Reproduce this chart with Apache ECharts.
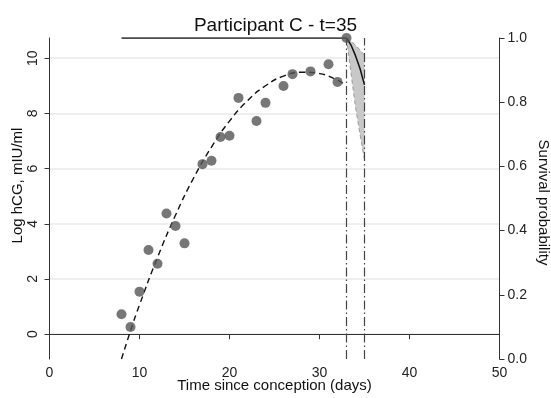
<!DOCTYPE html>
<html>
<head>
<meta charset="utf-8">
<script src="https://cdn.jsdelivr.net/npm/echarts@6/dist/echarts.min.js"></script>
<style>
  html, body { margin: 0; padding: 0; background: #fff; }
  #chart { width: 551px; height: 398px; }
</style>
</head>
<body>
<div id="chart"></div>
<script>
// observed hCG values (log scale)
const obsDays = [8, 9, 10, 11, 12, 13, 14, 15, 17, 18, 19, 20, 21, 23, 24, 26, 27, 29, 31, 32];
const obsHcg = [0.72, 0.26, 1.54, 3.05, 2.55, 4.37, 3.92, 3.29, 6.16, 6.28, 7.14, 7.19, 8.56, 7.72, 8.38, 8.99, 9.42, 9.52, 9.78, 9.14];

// fitted trajectory (dashed curve)
const fitDays = [8.0, 9, 10, 12, 14, 16, 18, 20, 22, 24, 26, 28, 30, 32, 32.6];
const fitHcg = [-0.9, 0.12, 1.06, 2.78, 4.31, 5.65, 6.78, 7.72, 8.46, 9.0, 9.35, 9.49, 9.44, 9.2, 9.09];

// survival curve and its band
const survDays = [8, 33, 33.5, 34, 34.5, 35];
const survProb = [1.0, 1.0, 0.978, 0.945, 0.905, 0.854];
const bandDays = [33, 33.5, 34, 34.5, 35];
const bandLow = [1.0, 0.89, 0.785, 0.70, 0.62];
const bandHigh = [1.0, 0.99, 0.978, 0.963, 0.947];
const survPoint = [[33, 1.0]];

// vertical reference times
const refTimes = [33, 35];

const hcgTicks = [0, 2, 4, 6, 8, 10];

const font = "'Liberation Sans', Arial, sans-serif";
const chart = echarts.init(document.getElementById('chart'));

const zip = (xs, ys) => xs.map((x, i) => [x, ys[i]]);

// shaded band drawn once as a polygon through the axes
const renderBand = (params, api) => {
  if (params.dataIndex !== 0) return;
  const top = bandDays.map((d, i) => api.coord([d, bandHigh[i]]));
  const bottom = bandDays.map((d, i) => api.coord([d, bandLow[i]])).reverse();
  return {
    type: 'polygon',
    shape: { points: top.concat(bottom) },
    style: { fill: '#c8c8c8', stroke: null }
  };
};

chart.setOption({
  animation: false,
  textStyle: { fontFamily: font },
  title: {
    text: 'Participant C - t=35',
    left: 'center',
    top: 11,
    textStyle: { fontSize: 19, fontWeight: 'normal', color: '#111', fontFamily: font }
  },
  grid: { left: 49.5, right: 51.5, top: 38, bottom: 39, outerBoundsMode: 'none', containLabel: false },
  xAxis: {
    type: 'value',
    min: 0,
    max: 50,
    interval: 10,
    name: 'Time since conception (days)',
    nameLocation: 'middle',
    nameGap: 19,
    nameMoveOverlap: false,
    nameTextStyle: { fontSize: 15, color: '#111' },
    axisLine: { lineStyle: { color: '#333', width: 1 } },
    axisTick: { length: 5, lineStyle: { color: '#333' } },
    axisLabel: { fontSize: 14, color: '#222', margin: 7 },
    splitLine: { show: false }
  },
  yAxis: [
    {
      type: 'value',
      min: -0.9,
      max: 10.73,
      name: 'Log hCG, mIU/ml',
      nameLocation: 'middle',
      nameGap: 24,
      nameMoveOverlap: false,
      nameRotate: 90,
      nameTextStyle: { fontSize: 15, color: '#111', padding: [0, 0, 0, 26] },
      axisLine: { show: true, lineStyle: { color: '#333', width: 1 } },
      axisTick: { show: true, length: 5, customValues: hcgTicks, lineStyle: { color: '#333' } },
      axisLabel: { fontSize: 14, color: '#222', rotate: 90, margin: 9, customValues: hcgTicks },
      splitLine: { show: true, lineStyle: { color: '#e8e8e8', width: 1.5 } }
    },
    {
      type: 'value',
      min: 0,
      max: 1,
      interval: 0.2,
      position: 'right',
      name: 'Survival probability',
      nameLocation: 'middle',
      nameGap: 36,
      nameMoveOverlap: false,
      nameRotate: -90,
      nameTextStyle: { fontSize: 15, color: '#111', padding: [0, 0, 0, 8] },
      axisLine: { show: true, lineStyle: { color: '#333', width: 1 } },
      axisTick: { show: true, length: 5, lineStyle: { color: '#333' } },
      axisLabel: { fontSize: 14, color: '#222', margin: 8, formatter: v => v.toFixed(1) },
      splitLine: { show: false }
    }
  ],
  series: [
    {
      type: 'custom',
      yAxisIndex: 1,
      renderItem: renderBand,
      data: zip(bandDays, bandHigh),
      silent: true,
      z: 1
    },
    {
      type: 'line',
      yAxisIndex: 1,
      data: zip(bandDays, bandLow),
      symbol: 'none',
      lineStyle: { color: '#9a9a9a', width: 1, type: [4, 3] },
      z: 2
    },
    {
      type: 'line',
      yAxisIndex: 1,
      data: zip(bandDays, bandHigh),
      symbol: 'none',
      lineStyle: { color: '#9a9a9a', width: 1, type: [4, 3] },
      z: 2
    },
    {
      type: 'line',
      yAxisIndex: 1,
      data: zip(survDays, survProb),
      symbol: 'none',
      lineStyle: { color: '#111', width: 1.5 },
      z: 3
    },
    {
      type: 'line',
      yAxisIndex: 0,
      data: zip(fitDays, fitHcg),
      smooth: true,
      symbol: 'none',
      lineStyle: { color: '#111', width: 1.4, type: [6, 4] },
      z: 3,
      markLine: {
        silent: true,
        symbol: 'none',
        label: { show: false },
        lineStyle: { color: '#444', width: 1.2, type: [9, 3, 1.5, 3] },
        data: refTimes.map(t => ({ xAxis: t }))
      }
    },
    {
      type: 'scatter',
      yAxisIndex: 0,
      data: zip(obsDays, obsHcg),
      symbolSize: 10,
      itemStyle: { color: '#555' },
      z: 5
    },
    {
      type: 'scatter',
      yAxisIndex: 1,
      data: survPoint,
      symbolSize: 10,
      itemStyle: { color: '#555' },
      z: 5
    }
  ]
});
</script>
</body>
</html>
